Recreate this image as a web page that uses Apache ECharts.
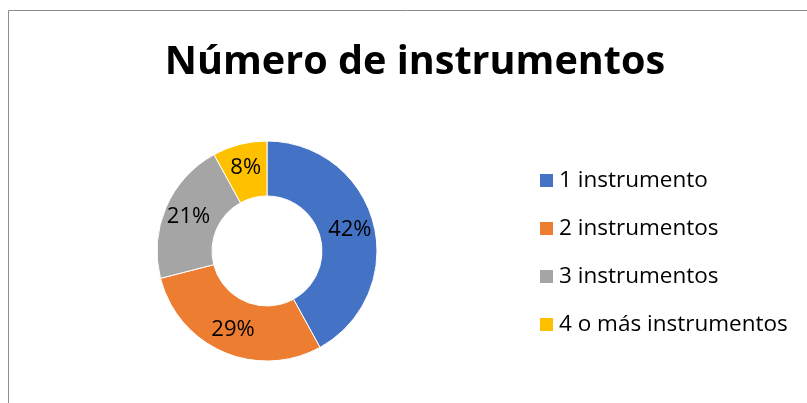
<!DOCTYPE html>
<html>
<head>
<meta charset="utf-8">
<script src="https://cdn.jsdelivr.net/npm/echarts@6/dist/echarts.min.js"></script>
<style>
  html, body { margin: 0; padding: 0; background: #fff; }
  #chart { width: 807px; height: 403px; }
</style>
</head>
<body>
<div id="chart"></div>
<script>
let categories = ['1 instrumento', '2 instrumentos', '3 instrumentos', '4 o más instrumentos'];
let percents = [42, 29, 21, 8];
let colors = ['#4472C4', '#ED7D31', '#A5A5A5', '#FFC000'];

let chart = echarts.init(document.getElementById('chart'));

let options = {
  animation: false,
  title: {
    text: 'Número de instrumentos',
    left: 410,
    textAlign: 'center',
    top: 38,
    textStyle: {
      fontFamily: 'Open Sans',
      fontWeight: 'bold',
      fontSize: 39.6,
      color: '#000'
    }
  },
  legend: {
    orient: 'vertical',
    left: 538,
    top: 169,
    padding: 0,
    itemWidth: 15,
    itemHeight: 15,
    itemGap: 25,
    icon: 'rect',
    data: categories,
    textStyle: {
      fontFamily: 'Open Sans',
      fontSize: 22.5,
      lineHeight: 22,
      color: '#000'
    }
  },
  graphic: [
    { type: 'line', shape: { x1: 8.5, y1: 10.5, x2: 807, y2: 10.5 }, style: { stroke: '#8c8c8c', lineWidth: 1 } },
    { type: 'line', shape: { x1: 8.5, y1: 10.5, x2: 8.5, y2: 403 }, style: { stroke: '#8c8c8c', lineWidth: 1 } }
  ],
  series: [
    {
      type: 'pie',
      center: [267, 251],
      radius: [55, 110],
      startAngle: 90,
      clockwise: true,
      color: colors,
      itemStyle: { borderColor: '#fff', borderWidth: 1 },
      label: {
        position: 'inside',
        formatter: '{c}%',
        fontFamily: 'Open Sans',
        fontSize: 22,
        color: '#000'
      },
      labelLine: { show: false },
      data: categories.map((name, i) => ({ name: name, value: percents[i] }))
    }
  ]
};

chart.setOption(options);
</script>
</body>
</html>
